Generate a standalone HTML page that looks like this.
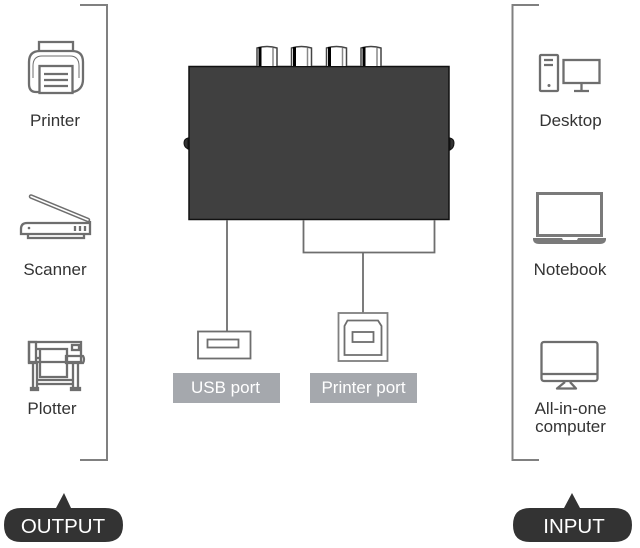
<!DOCTYPE html>
<html><head><meta charset="utf-8">
<style>
html,body{margin:0;padding:0;background:#fff;width:640px;height:548px;overflow:hidden}
svg{display:block}
text{font-family:"Liberation Sans",sans-serif}
</style></head>
<body>
<svg width="640" height="548" viewBox="0 0 640 548" xmlns="http://www.w3.org/2000/svg">
<!-- brackets -->
<path d="M80 5H107V460H80" fill="none" stroke="#808080" stroke-width="2"/>
<path d="M539 5H512.500V460H539" fill="none" stroke="#808080" stroke-width="2"/>

<!-- printer -->
<g fill="none" stroke="#6e6e6e" stroke-width="2.300">
<path d="M39 51V42H73V51"/>
<path d="M39 92H36Q29 92 29 84V62Q29 51 40 51H72Q83 51 83 62V79Q83 90 73 92" />
<path d="M33 78V66Q33 56 42 56H70Q79 56 79 66V78" stroke-width="1"/>
<rect x="39.500" y="66" width="33" height="27"/>
<path d="M44 74H68M44 80H68M44 86H68"/>
</g>
<text x="55" y="126" font-size="17" fill="#333" text-anchor="middle">Printer</text>

<!-- scanner -->
<g fill="none" stroke="#6e6e6e">
<path d="M31 196.500L88 220" stroke-width="4.500" stroke-linecap="round"/>
<path d="M31 196.500L88 220" stroke-width="1.500" stroke="#fff" stroke-linecap="round"/>
<path d="M90 221V234H21V229Q21 223 27 223H90" stroke-width="2.300"/>
<path d="M28 234V238H84V234" stroke-width="2.300"/>
<path d="M75 226V231M80 226V231M85 226V231" stroke-width="2.300"/>
</g>
<circle cx="29" cy="228" r="1.300" fill="#6e6e6e"/>
<text x="55" y="275" font-size="17" fill="#333" text-anchor="middle">Scanner</text>

<!-- plotter -->
<g fill="none" stroke="#6e6e6e" stroke-width="2.300">
<path d="M29 342H81V362H29Z"/>
<path d="M29 342H36V363H29Z"/>
<path d="M37 349H67V377H40V349"/>
<path d="M36 358H40"/>
<rect x="72" y="345" width="7" height="5"/>
<path d="M66 356H83Q85 359 83 363H66Z"/>
<path d="M33 363V387M37 363V387M73 364V387M78 364V387M37 380H73M37 384H73"/>
<path d="M31 390V388H38V390H31ZM71 390V388H80V390H71Z"/>
</g>
<text x="52" y="414" font-size="17" fill="#333" text-anchor="middle">Plotter</text>

<!-- OUTPUT -->
<path d="M64 493L71 508H105Q123 508 123 525Q123 542 105 542H21Q4 542 4 525Q4 508 21 508H56Z" fill="#333"/>
<text x="63" y="533" font-size="20.500" fill="#fff" text-anchor="middle">OUTPUT</text>

<!-- device -->
<rect x="189" y="66.500" width="260" height="153" fill="#404040" stroke="#111" stroke-width="1.500"/>
<path d="M188 138Q184 139 184 143Q184 147 188 149Z" fill="#333" stroke="#111"/>
<path d="M450 138Q454 139 454 143Q454 148 450 150Z" fill="#333" stroke="#111"/>
<g fill="#fff" stroke="#222" stroke-width="1">
<g><rect x="257" y="46" width="20" height="20" rx="2" fill="#fff" stroke="none"/><path d="M257 66V48Q267 45 277 48V66" stroke="#444" stroke-width="1.500"/><path d="M260 47V66" stroke="#000" stroke-width="3"/><path d="M273 48V66" stroke="#888" stroke-width="1.500"/></g>
<g transform="translate(34.500)"><rect x="257" y="46" width="20" height="20" rx="2" fill="#fff" stroke="none"/><path d="M257 66V48Q267 45 277 48V66" stroke="#444" stroke-width="1.500"/><path d="M260 47V66" stroke="#000" stroke-width="3"/><path d="M273 48V66" stroke="#888" stroke-width="1.500"/></g>
<g transform="translate(69.500)"><rect x="257" y="46" width="20" height="20" rx="2" fill="#fff" stroke="none"/><path d="M257 66V48Q267 45 277 48V66" stroke="#444" stroke-width="1.500"/><path d="M260 47V66" stroke="#000" stroke-width="3"/><path d="M273 48V66" stroke="#888" stroke-width="1.500"/></g>
<g transform="translate(104)"><rect x="257" y="46" width="20" height="20" rx="2" fill="#fff" stroke="none"/><path d="M257 66V48Q267 45 277 48V66" stroke="#444" stroke-width="1.500"/><path d="M260 47V66" stroke="#000" stroke-width="3"/><path d="M273 48V66" stroke="#888" stroke-width="1.500"/></g>
</g>

<!-- connectors -->
<g fill="none" stroke="#6e6e6e" stroke-width="1.800">
<path d="M227 220V331"/>
<path d="M303.500 220V252.500H434.500V220"/>
<path d="M363 252.500V313"/>
</g>

<!-- USB icon -->
<rect x="198" y="331.500" width="52.500" height="27" fill="#fff" stroke="#6e6e6e" stroke-width="1.800"/>
<rect x="207.500" y="339.500" width="31" height="8" fill="#fff" stroke="#6e6e6e" stroke-width="1.800"/>
<!-- printer port icon -->
<rect x="338.500" y="313" width="49" height="48" fill="#fff" stroke="#808080" stroke-width="1.800"/>
<path d="M344.500 355V326L347.500 320.500H378L381.500 326V355Z" fill="#fff" stroke="#6e6e6e" stroke-width="1.800"/>
<rect x="352.500" y="332" width="21" height="10" fill="#fff" stroke="#6e6e6e" stroke-width="1.800"/>

<!-- labels -->
<rect x="173" y="373" width="107" height="30" fill="#a5a8ad"/>
<text x="225.500" y="393" font-size="17" fill="#fff" text-anchor="middle">USB port</text>
<rect x="310" y="373" width="107" height="30" fill="#a5a8ad"/>
<text x="363.500" y="393" font-size="17" fill="#fff" text-anchor="middle">Printer port</text>

<!-- desktop -->
<g fill="none" stroke="#6e6e6e" stroke-width="2.300">
<rect x="540" y="55" width="18" height="36" rx="1"/>
<path d="M544 60H553M544 65H553"/>
<rect x="563.500" y="60" width="36" height="23"/>
<path d="M581.500 83V91M574 91H589"/>
</g>
<circle cx="549" cy="85.500" r="1.500" fill="#6e6e6e"/>
<text x="570.500" y="126" font-size="17" fill="#333" text-anchor="middle">Desktop</text>

<!-- notebook -->
<rect x="537.500" y="193.500" width="64" height="42" fill="none" stroke="#7a7a7a" stroke-width="3"/>
<path d="M533 238H562L563 240H577L578 238H606V240Q605 244 600 244H539Q534 244 533 240Z" fill="#7a7a7a"/>
<text x="570" y="275" font-size="17" fill="#333" text-anchor="middle">Notebook</text>

<!-- all-in-one -->
<g fill="none" stroke="#6e6e6e" stroke-width="2.300">
<rect x="541.500" y="342" width="56" height="39" rx="2.500"/>
<path d="M541.500 374H597.500"/>
<path d="M565 382L557 388.500H576L570 382" stroke-linejoin="round"/>
</g>
<text x="570.500" y="414" font-size="17" fill="#333" text-anchor="middle">All-in-one</text>
<text x="570.500" y="432" font-size="17" fill="#333" text-anchor="middle">computer</text>

<!-- INPUT -->
<path d="M572 493L580 508H614Q632 508 632 525Q632 542 614 542H530Q513 542 513 525Q513 508 530 508H564Z" fill="#333"/>
<text x="574" y="533" font-size="20.500" fill="#fff" text-anchor="middle">INPUT</text>
</svg>
</body></html>
